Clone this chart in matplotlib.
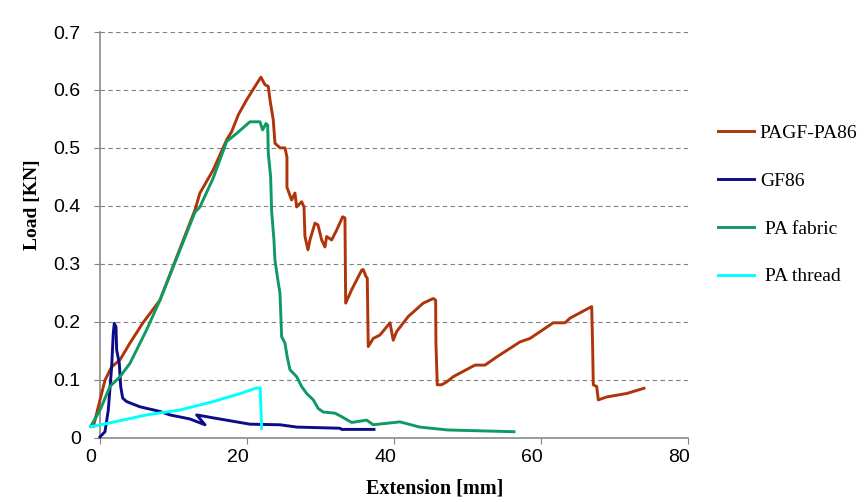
import numpy as np
import matplotlib.pyplot as plt
import matplotlib.transforms as mtransforms

# PAGF-PA86
x_pagf = [-0.9, 0.68, 1.59, 2.72, 4.08, 5.85, 8.16, 12.93, 13.6, 15.41, 17.24, 17.92, 18.82,
          19.96, 21.09, 21.9, 22.45, 22.9, 23.13, 23.58, 23.81, 24.49, 25.17, 25.44, 25.44,
          26.08, 26.53, 26.76, 27.44, 27.76, 27.89, 28.3, 28.57, 29.25, 29.66, 30.16, 30.61,
          30.84, 31.52, 32.2, 33.02, 33.33, 33.43, 34.24, 35.61, 35.82, 36.19, 36.37, 36.5,
          37.18, 38.1, 39.46, 39.9, 40.37, 41.95, 43.99, 45.35, 45.67, 45.71, 45.89, 46.49,
          47.17, 48.07, 51.02, 52.38, 53.97, 57.14, 58.5, 61.67, 63.27, 63.95, 66.9, 67.03,
          67.12, 67.58, 67.8, 68.94, 71.66, 74.01]
y_pagf = [0.019, 0.099, 0.122, 0.134, 0.163, 0.198, 0.237, 0.393, 0.422, 0.462, 0.514, 0.528, 0.557,
          0.583, 0.606, 0.622, 0.609, 0.606, 0.583, 0.548, 0.508, 0.5, 0.5, 0.484, 0.432,
          0.41, 0.422, 0.398, 0.407, 0.398, 0.347, 0.324, 0.341, 0.37, 0.367, 0.341, 0.329,
          0.347, 0.341, 0.358, 0.381, 0.379, 0.232, 0.255, 0.289, 0.29, 0.278, 0.275, 0.157,
          0.171, 0.177, 0.198, 0.168, 0.183, 0.209, 0.232, 0.24, 0.237, 0.163, 0.091, 0.091,
          0.096, 0.105, 0.125, 0.125, 0.139, 0.165, 0.171, 0.198, 0.198, 0.206, 0.226, 0.157,
          0.091, 0.088, 0.065, 0.07, 0.076, 0.085]

# GF86
x_gf = [0, 0.68, 1.13, 1.59, 1.81, 1.95, 2.18, 2.27, 2.63, 2.82, 3.09, 3.63, 5.44, 8.16,
        9.52, 12.24, 14.29, 13.16, 15.37, 20.41, 24.49, 26.76, 32.65, 32.88, 37.28]
y_gf = [0.001, 0.01, 0.047, 0.122, 0.18, 0.197, 0.191, 0.151, 0.128, 0.088, 0.068, 0.062, 0.053, 0.045,
        0.039, 0.032, 0.022, 0.039, 0.034, 0.023, 0.022, 0.018, 0.016, 0.014, 0.014]

# PA fabric
x_fab = [-1.27, 0, 1.36, 2.72, 4.08, 6.35, 8.16, 12.93, 13.6, 15.41, 17.24, 18.6, 20.41, 21.77,
         22.13, 22.59, 22.82, 22.9, 23.22, 23.36, 23.67, 23.81, 24.2, 24.49, 24.72, 25.17, 25.48,
         25.85, 26.3, 26.76, 27.44, 28.12, 29.02, 29.7, 30.38, 31.97, 32.88, 34.24, 36.29, 37.18,
         40.82, 43.5, 47.35, 56.33]
y_fab = [0.019, 0.047, 0.088, 0.105, 0.128, 0.186, 0.237, 0.389, 0.398, 0.448, 0.511, 0.525, 0.545, 0.545,
         0.531, 0.542, 0.539, 0.491, 0.45, 0.39, 0.341, 0.306, 0.272, 0.249, 0.174, 0.163, 0.139,
         0.117, 0.111, 0.105, 0.088, 0.076, 0.065, 0.05, 0.044, 0.042, 0.036, 0.026, 0.03, 0.022,
         0.027, 0.018, 0.013, 0.01]

# PA thread
x_thr = [-1.2, 0, 6.35, 10.9, 15.4, 19.0, 21.3, 21.8, 22.0]
y_thr = [0.0187, 0.0216, 0.039, 0.0475, 0.062, 0.0755, 0.0856, 0.0856, 0.016]

labels = ['PAGF-PA86', 'GF86', ' PA fabric', ' PA thread']
colors = ['#B0340A', '#0C0C8A', '#0E9A62', '#00FFFF']

fig = plt.figure(figsize=(8.67, 4.97), dpi=100)
ax = fig.add_axes([0.1153, 0.1197, 0.6782, 0.8159])

for xs, ys, lab, c in zip([x_pagf, x_gf, x_fab, x_thr], [y_pagf, y_gf, y_fab, y_thr], labels, colors):
    ax.plot(xs, ys, color=c, lw=2.1, label=lab, clip_on=False, zorder=3)

ax.set_xlim(0, 80)
ax.set_ylim(0, 0.7)
ax.set_xticks([0, 20, 40, 60, 80])
ax.set_yticks(np.arange(0, 0.71, 0.1))
ax.set_yticklabels(['0', '0.1', '0.2', '0.3', '0.4', '0.5', '0.6', '0.7'])

# dashed gridlines
ax.yaxis.grid(True, color='#808080', lw=0.8, dashes=(4, 3))
ax.set_axisbelow(True)

for s in ['top', 'right']:
    ax.spines[s].set_visible(False)
for s in ['left', 'bottom']:
    ax.spines[s].set_color('#8a8a8a')
    ax.spines[s].set_linewidth(1.2)

ax.tick_params(axis='y', direction='out', length=4.3, width=0.8, color='#808080', pad=9.5,
               labelsize=14)
ax.tick_params(axis='x', direction='out', length=4.3, width=0.8, color='#808080', pad=4,
               labelsize=14)
for t in ax.get_xticklabels() + ax.get_yticklabels():
    t.set_fontfamily('Liberation Sans')
# x tick labels sit a little left of their ticks
shift = mtransforms.ScaledTranslation(-0.09, 0, fig.dpi_scale_trans)
for t in ax.get_xticklabels():
    t.set_transform(t.get_transform() + shift)

ax.set_xlabel('Extension [mm]', fontfamily='Liberation Serif', fontweight='bold', fontsize=14.5)
ax.set_ylabel('Load [KN]', fontfamily='Liberation Serif', fontweight='bold', fontsize=14)
ax.xaxis.set_label_coords(0.57, -0.1)
ax.yaxis.set_label_coords(-0.1, 0.575)

fig.legend(loc='center left', bbox_to_anchor=(0.817, 0.5875), frameon=False, borderpad=0,
           handlelength=1.85, handletextpad=0.3, labelspacing=1.55,
           prop={'family': 'Liberation Serif', 'size': 14})

fig.savefig('out.png', dpi=100)
